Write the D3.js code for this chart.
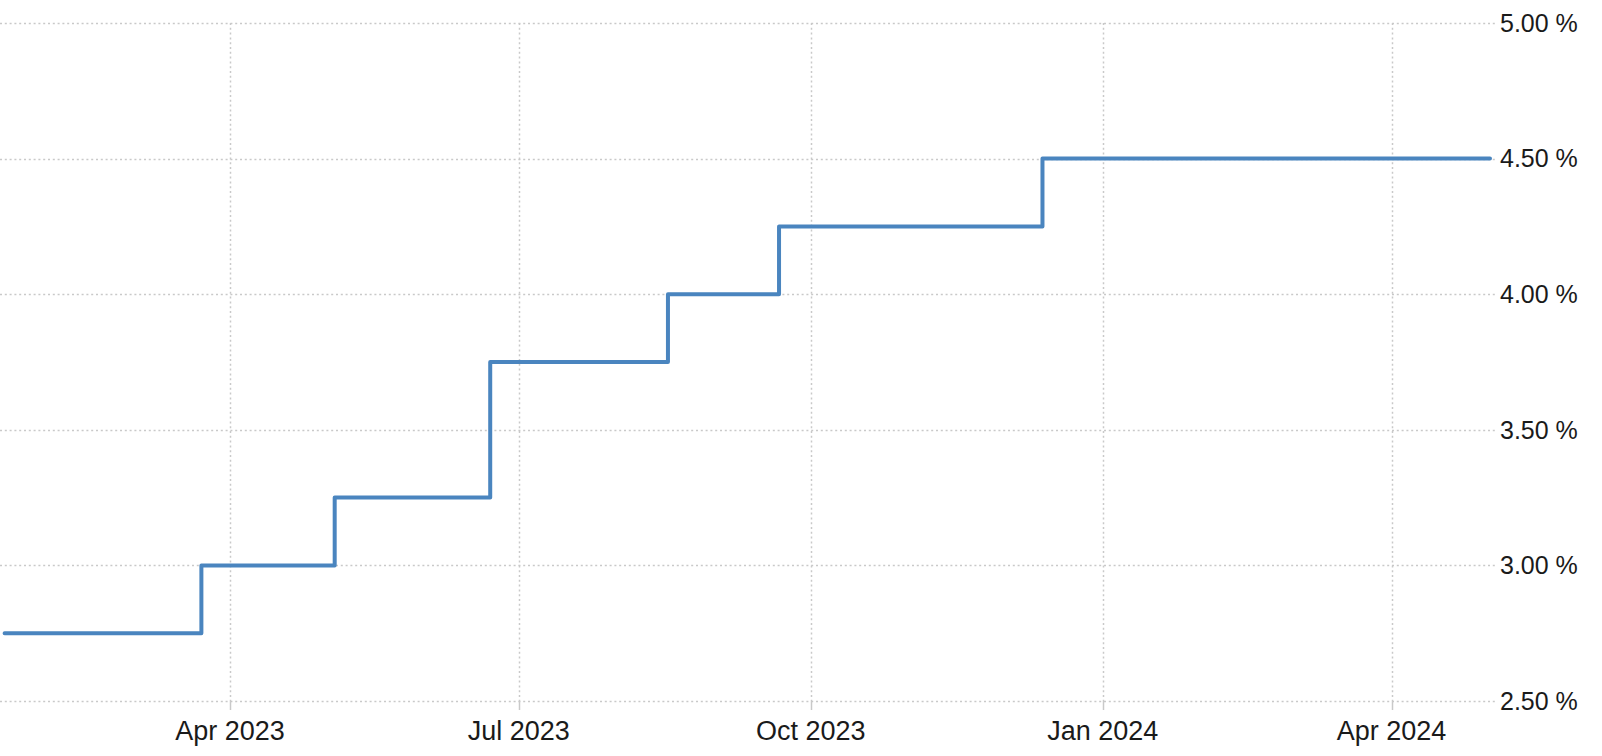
<!DOCTYPE html>
<html>
<head>
<meta charset="utf-8">
<script src="https://cdn.jsdelivr.net/npm/d3@7"></script>
<style>
  html, body { margin: 0; padding: 0; background: #fff; }
  svg { display: block; }
</style>
</head>
<body>
<svg id="chart" width="1602" height="756"></svg>
<script>
// policy rate steps (value holds until the next date)
const dates = ["2023-01-20", "2023-03-23", "2023-05-04", "2023-06-22", "2023-08-17", "2023-09-21", "2023-12-13", "2024-05-02"];
const rates = [2.75, 3.0, 3.25, 3.75, 4.0, 4.25, 4.5, 4.5];
const yTicks = [2.5, 3.0, 3.5, 4.0, 4.5, 5.0];
const xTicks = ["2023-04-01", "2023-07-01", "2023-10-01", "2024-01-01", "2024-04-01"];

const width = 1602,
  height = 756;
const plot = { left: 4.6, right: 1490, top: 23, bottom: 701, gridRight: 1495 };

const parse = d3.utcParse("%Y-%m-%d");
const data = dates.map((d, i) => ({ date: parse(d), value: rates[i] }));

const svg = d3.select("#chart");

const x = d3
  .scaleUtc()
  .domain(d3.extent(data, (d) => d.date))
  .range([plot.left, plot.right]);

const y = d3.scaleLinear().domain([2.5, 5.0]).range([plot.bottom, plot.top]);

// horizontal grid + right labels
const yAxis = svg.append("g").attr("class", "y-axis");
yAxis
  .selectAll("line")
  .data(yTicks)
  .join("line")
  .attr("x1", 0)
  .attr("x2", plot.gridRight)
  .attr("y1", (d) => Math.round(y(d)) + 0.5)
  .attr("y2", (d) => Math.round(y(d)) + 0.5)
  .attr("stroke", "#c9c9c9")
  .attr("stroke-width", 1.5)
  .attr("stroke-dasharray", "2,2.8");
yAxis
  .selectAll("text")
  .data(yTicks)
  .join("text")
  .attr("x", 1500)
  .attr("y", (d) => y(d))
  .attr("dy", "0.35em")
  .style("font-family", "'Liberation Sans', Arial, sans-serif")
  .style("font-size", "25px")
  .style("fill", "#1a1a1a")
  .text((d) => d3.format(".2f")(d) + " %");

// vertical grid + bottom labels
const xAxis = svg.append("g").attr("class", "x-axis");
const xDates = xTicks.map(parse);
xAxis
  .selectAll("line.grid")
  .data(xDates)
  .join("line")
  .attr("class", "grid")
  .attr("x1", (d) => Math.round(x(d)) + 0.5)
  .attr("x2", (d) => Math.round(x(d)) + 0.5)
  .attr("y1", plot.top)
  .attr("y2", plot.bottom)
  .attr("stroke", "#c9c9c9")
  .attr("stroke-width", 1.5)
  .attr("stroke-dasharray", "2,2.8");
xAxis
  .selectAll("line.tick")
  .data(xDates)
  .join("line")
  .attr("class", "tick")
  .attr("x1", (d) => Math.round(x(d)) + 0.5)
  .attr("x2", (d) => Math.round(x(d)) + 0.5)
  .attr("y1", plot.bottom)
  .attr("y2", plot.bottom + 9)
  .attr("stroke", "#c9c9c9")
  .attr("stroke-width", 1.5);
xAxis
  .selectAll("text")
  .data(xDates)
  .join("text")
  .attr("x", (d) => x(d))
  .attr("y", 731)
  .attr("dy", "0.35em")
  .attr("text-anchor", "middle")
  .style("font-family", "'Liberation Sans', Arial, sans-serif")
  .style("font-size", "27px")
  .style("fill", "#1a1a1a")
  .text((d) => d3.utcFormat("%b %Y")(d));

// the rate line
const line = d3
  .line()
  .x((d) => x(d.date))
  .y((d) => y(d.value))
  .curve(d3.curveStepAfter);

svg
  .append("path")
  .datum(data)
  .attr("d", line)
  .attr("fill", "none")
  .attr("stroke", "#4a85bf")
  .attr("stroke-width", 4)
  .attr("stroke-linejoin", "round")
  .attr("stroke-linecap", "round");
</script>
</body>
</html>
